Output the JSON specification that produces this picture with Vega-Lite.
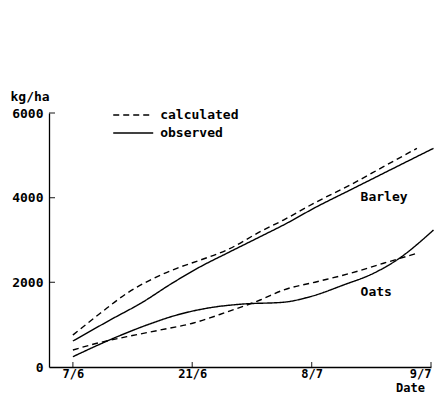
{
  "$schema": "https://vega.github.io/schema/vega-lite/v6.json",
  "autosize": "none",
  "padding": {"left": 49, "top": 113, "right": 16, "bottom": 27},
  "width": 382,
  "height": 254,
  "background": "white",
  "config": {
    "view": {"stroke": null},
    "font": "DejaVu Sans Mono",
    "axis": {"labelFont": "DejaVu Sans Mono", "labelFontSize": 13, "labelFontWeight": "bold", "labelColor": "black", "titleFont": "DejaVu Sans Mono", "titleFontWeight": "bold", "titleFontSize": 13, "titleColor": "black", "domainColor": "black", "grid": false, "domainWidth": 1.3, "ticks": false}
  },
  "data": {"values": [
    {"crop": "Barley", "type": "observed", "t": 0.0, "y": 614},
    {"crop": "Barley", "type": "observed", "t": 0.312, "y": 1110},
    {"crop": "Barley", "type": "observed", "t": 0.591, "y": 1543},
    {"crop": "Barley", "type": "observed", "t": 0.815, "y": 1950},
    {"crop": "Barley", "type": "observed", "t": 1.068, "y": 2369},
    {"crop": "Barley", "type": "observed", "t": 1.29, "y": 2686},
    {"crop": "Barley", "type": "observed", "t": 1.569, "y": 3078},
    {"crop": "Barley", "type": "observed", "t": 1.764, "y": 3354},
    {"crop": "Barley", "type": "observed", "t": 2.044, "y": 3787},
    {"crop": "Barley", "type": "observed", "t": 2.323, "y": 4181},
    {"crop": "Barley", "type": "observed", "t": 2.602, "y": 4576},
    {"crop": "Barley", "type": "observed", "t": 3.021, "y": 5166},
    {"crop": "Barley", "type": "calculated", "t": 0.0, "y": 756},
    {"crop": "Barley", "type": "calculated", "t": 0.229, "y": 1268},
    {"crop": "Barley", "type": "calculated", "t": 0.452, "y": 1740},
    {"crop": "Barley", "type": "calculated", "t": 0.648, "y": 2055},
    {"crop": "Barley", "type": "calculated", "t": 0.871, "y": 2331},
    {"crop": "Barley", "type": "calculated", "t": 1.068, "y": 2527},
    {"crop": "Barley", "type": "calculated", "t": 1.29, "y": 2764},
    {"crop": "Barley", "type": "calculated", "t": 1.569, "y": 3196},
    {"crop": "Barley", "type": "calculated", "t": 1.764, "y": 3472},
    {"crop": "Barley", "type": "calculated", "t": 2.044, "y": 3905},
    {"crop": "Barley", "type": "calculated", "t": 2.323, "y": 4299},
    {"crop": "Barley", "type": "calculated", "t": 2.602, "y": 4732},
    {"crop": "Barley", "type": "calculated", "t": 2.882, "y": 5166},
    {"crop": "Oats", "type": "observed", "t": 0.0, "y": 243},
    {"crop": "Oats", "type": "observed", "t": 0.34, "y": 678},
    {"crop": "Oats", "type": "observed", "t": 0.62, "y": 992},
    {"crop": "Oats", "type": "observed", "t": 0.871, "y": 1228},
    {"crop": "Oats", "type": "observed", "t": 1.15, "y": 1401},
    {"crop": "Oats", "type": "observed", "t": 1.429, "y": 1488},
    {"crop": "Oats", "type": "observed", "t": 1.764, "y": 1530},
    {"crop": "Oats", "type": "observed", "t": 1.988, "y": 1661},
    {"crop": "Oats", "type": "observed", "t": 2.267, "y": 1937},
    {"crop": "Oats", "type": "observed", "t": 2.518, "y": 2213},
    {"crop": "Oats", "type": "observed", "t": 2.714, "y": 2528},
    {"crop": "Oats", "type": "observed", "t": 3.021, "y": 3236},
    {"crop": "Oats", "type": "calculated", "t": 0.0, "y": 402},
    {"crop": "Oats", "type": "calculated", "t": 0.201, "y": 560},
    {"crop": "Oats", "type": "calculated", "t": 0.452, "y": 716},
    {"crop": "Oats", "type": "calculated", "t": 0.731, "y": 874},
    {"crop": "Oats", "type": "calculated", "t": 1.01, "y": 1039},
    {"crop": "Oats", "type": "calculated", "t": 1.29, "y": 1299},
    {"crop": "Oats", "type": "calculated", "t": 1.569, "y": 1583},
    {"crop": "Oats", "type": "calculated", "t": 1.764, "y": 1819},
    {"crop": "Oats", "type": "calculated", "t": 2.044, "y": 2015},
    {"crop": "Oats", "type": "calculated", "t": 2.323, "y": 2213},
    {"crop": "Oats", "type": "calculated", "t": 2.602, "y": 2450},
    {"crop": "Oats", "type": "calculated", "t": 2.882, "y": 2686}
  ]},
  "layer": [
    {
      "mark": {"type": "line", "interpolate": "monotone", "color": "black", "strokeWidth": 1.4, "clip": false},
      "encoding": {
        "x": {"field": "t", "type": "quantitative", "scale": {"domain": [-0.2, 3], "nice": false, "zero": false},
          "axis": {"values": [0, 1, 2, 3], "labelExpr": "['7/6','21/6','8/7','9/7'][datum.value]", "labelFontSize": 12, "labelPadding": 1, "title": "Date", "titleFontSize": 12, "titleX": 361, "titleY": 27, "titleAlign": "center", "titleBaseline": "bottom"}},
        "y": {"field": "y", "type": "quantitative", "scale": {"domain": [0, 6000], "nice": false},
          "axis": {"values": [0, 2000, 4000, 6000], "format": "d", "labelPadding": 6, "title": "kg/ha", "titleAngle": 0, "titleX": -39, "titleY": -17, "titleAlign": "left", "titleBaseline": "middle"}},
        "strokeDash": {"field": "type", "type": "nominal", "scale": {"domain": ["calculated", "observed"], "range": [[6, 4], [1, 0]]}, "legend": null},
        "detail": {"field": "crop"}
      }
    },
    {
      "data": {"values": [
        {"type": "calculated", "t1": 0.338, "t2": 0.673, "y": 5953},
        {"type": "observed", "t1": 0.338, "t2": 0.673, "y": 5528}
      ]},
      "layer": [
        {
          "mark": {"type": "rule", "color": "black", "strokeWidth": 1.4},
          "encoding": {
            "x": {"field": "t1", "type": "quantitative"},
            "x2": {"field": "t2"},
            "y": {"field": "y", "type": "quantitative"},
            "strokeDash": {"field": "type", "type": "nominal", "legend": null}
          }
        },
        {
          "mark": {"type": "text", "align": "left", "baseline": "middle", "dx": 7, "font": "DejaVu Sans Mono", "fontWeight": "bold", "fontSize": 13, "color": "black"},
          "encoding": {
            "x": {"field": "t2", "type": "quantitative"},
            "y": {"field": "y", "type": "quantitative"},
            "text": {"field": "type"}
          }
        }
      ]
    },
    {
      "data": {"values": [{"t": 0}, {"t": 1}, {"t": 2}, {"t": 3}]},
      "mark": {"type": "tick", "orient": "vertical", "size": 5, "yOffset": -2.5, "color": "black", "thickness": 1.3},
      "encoding": {
        "x": {"field": "t", "type": "quantitative"},
        "y": {"datum": 0, "type": "quantitative"}
      }
    },
    {
      "data": {"values": [{"v": 2000}, {"v": 4000}, {"v": 6000}]},
      "mark": {"type": "tick", "orient": "horizontal", "size": 6, "xOffset": 3, "color": "black", "thickness": 1.3},
      "encoding": {
        "y": {"field": "v", "type": "quantitative"},
        "x": {"datum": -0.2, "type": "quantitative"}
      }
    },
    {
      "data": {"values": [
        {"label": "Barley", "t": 2.41, "y": 4022},
        {"label": "Oats", "t": 2.41, "y": 1779}
      ]},
      "mark": {"type": "text", "align": "left", "baseline": "middle", "font": "DejaVu Sans Mono", "fontWeight": "bold", "fontSize": 13, "color": "black"},
      "encoding": {
        "x": {"field": "t", "type": "quantitative"},
        "y": {"field": "y", "type": "quantitative"},
        "text": {"field": "label"}
      }
    }
  ]
}
